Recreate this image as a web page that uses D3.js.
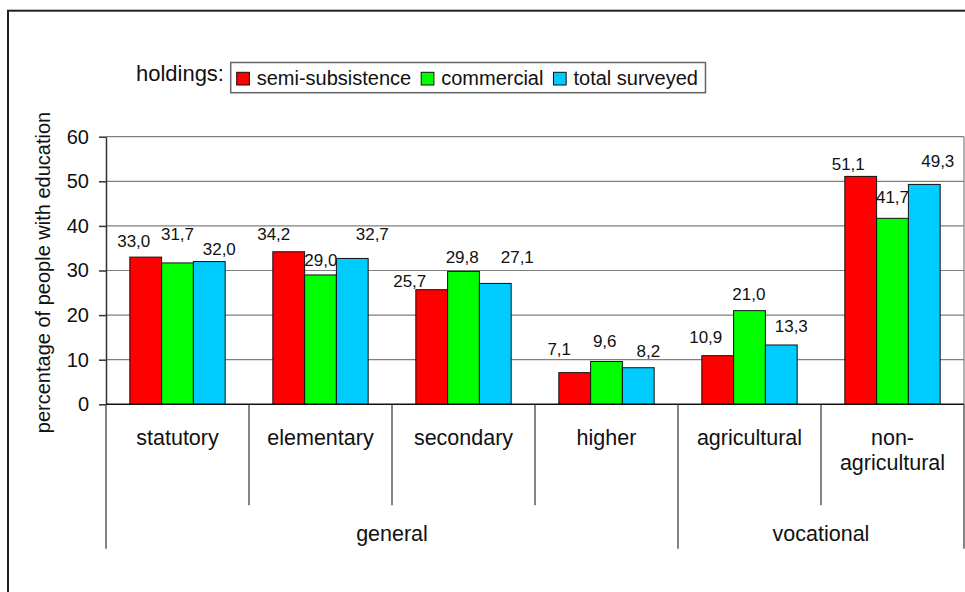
<!DOCTYPE html>
<html>
<head>
<meta charset="utf-8">
<script src="https://cdn.jsdelivr.net/npm/d3@7"></script>
<style>
  html, body { margin: 0; padding: 0; background: #fff; }
  svg { display: block; font-family: "Liberation Sans", Arial, sans-serif; }
</style>
</head>
<body>
<svg id="chart" width="965" height="592"></svg>
<script>
// ---------- data ----------
const categories = ["statutory", "elementary", "secondary", "higher", "agricultural", "non-agricultural"];
const categoryGroup = ["general", "general", "general", "general", "vocational", "vocational"];
const seriesNames = ["semi-subsistence", "commercial", "total surveyed"];
const semiSubsistence = [33.0, 34.2, 25.7, 7.1, 10.9, 51.1];
const commercial = [31.7, 29.0, 29.8, 9.6, 21.0, 41.7];
const totalSurveyed = [32.0, 32.7, 27.1, 8.2, 13.3, 49.3];
const yTicks = [0, 10, 20, 30, 40, 50, 60];
const legendTitle = "holdings:";
const yTitle = "percentage of people with education";

// ---------- layout / style (not data) ----------
const colors = ["#FF0000", "#00FF00", "#00CCFF"];
// manual nudges of the value labels relative to the top centre of their bar (px)
const labelDx = [
  [-12, -15, -22, -15.5, -12, -12.5],
  [0, 0.3, -1.3, -1.8, -0.7, 0],
  [10, 20, 22, 10, 10, 13.5]
];
const labelDy = [
  [-10.4, -11.8, -3, -17.6, -12.4, -6.4],
  [-22.9, -9.3, -8.7, -14.8, -10.6, -15.6],
  [-6.6, -18.5, -20.7, -10.4, -13.3, -17.7]
];

const seriesValues = [semiSubsistence, commercial, totalSurveyed];
const plot = { left: 106, right: 964, top: 136.7, bottom: 404.3 };

const svg = d3.select("#chart");

// outer frame
svg.append("rect")
  .attr("x", 8).attr("y", 10.7)
  .attr("width", 990).attr("height", 620)
  .attr("fill", "none").attr("stroke", "#222").attr("stroke-width", 2);

// scales
const x0 = d3.scaleBand().domain(categories).range([plot.left, plot.right]).paddingInner(0).paddingOuter(0);
const x1 = d3.scaleBand().domain(seriesNames).range([0, x0.bandwidth()]).paddingInner(0).paddingOuter(0.75);
const y = d3.scaleLinear().domain([0, 60]).range([plot.bottom, plot.top]);

// gridlines
svg.append("g").selectAll("line").data(yTicks.filter(t => t > 0)).join("line")
  .attr("x1", plot.left).attr("x2", plot.right)
  .attr("y1", d => y(d)).attr("y2", d => y(d))
  .attr("stroke", "#7f7f7f").attr("stroke-width", 1.2);
// plot area right border
svg.append("line")
  .attr("x1", plot.right).attr("x2", plot.right)
  .attr("y1", y(60)).attr("y2", y(0))
  .attr("stroke", "#7f7f7f").attr("stroke-width", 1.2);

// bars
const data = [];
categories.forEach((c, i) => {
  seriesNames.forEach((s, j) => {
    data.push({ c, s, i, j, v: seriesValues[j][i] });
  });
});
svg.append("g").selectAll("rect").data(data).join("rect")
  .attr("x", d => x0(d.c) + x1(d.s))
  .attr("y", d => y(d.v))
  .attr("width", x1.bandwidth())
  .attr("height", d => y(0) - y(d.v))
  .attr("fill", d => colors[d.j])
  .attr("stroke", "#111").attr("stroke-width", 1);

// value labels
const fmt = v => d3.format(".1f")(v).replace(".", ",");
svg.append("g").selectAll("text").data(data).join("text")
  .attr("x", d => x0(d.c) + x1(d.s) + x1.bandwidth() / 2 + labelDx[d.j][d.i])
  .attr("y", d => y(d.v) + labelDy[d.j][d.i])
  .attr("text-anchor", "middle")
  .attr("font-size", 17)
  .attr("fill", "#111")
  .text(d => fmt(d.v));

// y axis
const yAxis = d3.axisLeft(y).tickValues(yTicks).tickSize(7).tickSizeOuter(0).tickPadding(10);
const gy = svg.append("g").attr("transform", `translate(${plot.left},0)`).call(yAxis);
gy.select(".domain").attr("stroke", "#333").attr("stroke-width", 1.5);
gy.selectAll(".tick line").attr("stroke", "#333").attr("stroke-width", 1.5);
gy.selectAll(".tick text").attr("font-size", 20).attr("fill", "#111")
  .attr("font-family", '"Liberation Sans", Arial, sans-serif');

// x axis line
svg.append("line")
  .attr("x1", plot.left).attr("x2", plot.right)
  .attr("y1", y(0)).attr("y2", y(0))
  .attr("stroke", "#111").attr("stroke-width", 1.5);

// category separators (two levels)
const level1Bottom = 505.3, level2Bottom = 548.7;
const boundaries = categories.map((c, i) => ({
  x: x0(c),
  groupStart: i === 0 || categoryGroup[i] !== categoryGroup[i - 1]
}));
boundaries.push({ x: plot.right, groupStart: true });
svg.append("g").selectAll("line").data(boundaries).join("line")
  .attr("x1", d => d.x).attr("x2", d => d.x)
  .attr("y1", y(0)).attr("y2", d => d.groupStart ? level2Bottom : level1Bottom)
  .attr("stroke", "#333").attr("stroke-width", 1.2);

// category labels (wrap after hyphen)
const catG = svg.append("g").attr("font-size", 21.5).attr("fill", "#111").attr("text-anchor", "middle");
categories.forEach(c => {
  const parts = c.includes("-") ? [c.slice(0, c.indexOf("-") + 1), c.slice(c.indexOf("-") + 1)] : [c];
  const t = catG.append("text").attr("x", x0(c) + x0.bandwidth() / 2).attr("y", 444.7);
  parts.forEach((p, k) => {
    t.append("tspan").attr("x", x0(c) + x0.bandwidth() / 2).attr("dy", k === 0 ? 0 : 25.6).text(p);
  });
});

// group labels
const groupNames = Array.from(new Set(categoryGroup));
groupNames.forEach(g => {
  const cats = categories.filter((c, i) => categoryGroup[i] === g);
  const gx0 = x0(cats[0]);
  const gx1 = x0(cats[cats.length - 1]) + x0.bandwidth();
  catG.append("text").attr("x", (gx0 + gx1) / 2).attr("y", 541).text(g);
});

// y axis title
svg.append("text")
  .attr("transform", `translate(50,${(plot.top + plot.bottom) / 2 + 2}) rotate(-90)`)
  .attr("text-anchor", "middle")
  .attr("font-size", 20)
  .attr("fill", "#111")
  .text(yTitle);

// legend
const legX = 230.7, legY = 62.5, legH = 30.2;
svg.append("text").attr("x", 224).attr("y", 81).attr("text-anchor", "end")
  .attr("font-size", 22).attr("fill", "#111").text(legendTitle);
const legBox = svg.append("rect")
  .attr("x", legX).attr("y", legY).attr("height", legH)
  .attr("fill", "#fff").attr("stroke", "#666").attr("stroke-width", 1.5);
const legG = svg.append("g");
let cx = legX + 6;
seriesNames.forEach((s, j) => {
  legG.append("rect").attr("x", cx).attr("y", 72.3).attr("width", 12.7).attr("height", 12.7)
    .attr("fill", colors[j]).attr("stroke", "#111").attr("stroke-width", 1);
  const t = legG.append("text").attr("x", cx + 20).attr("y", 85)
    .attr("font-size", 20).attr("fill", "#111").text(s);
  cx = cx + 20 + t.node().getComputedTextLength() + 10;
});
legBox.attr("width", cx - 10 + 7.5 - legX);
</script>
</body>
</html>
